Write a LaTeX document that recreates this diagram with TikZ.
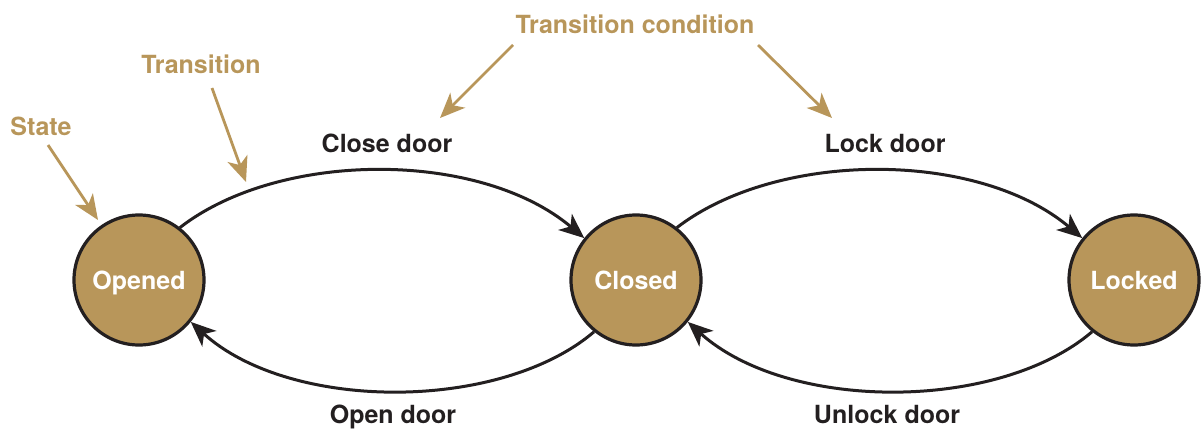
\documentclass[tikz,border=0pt]{standalone}
\usepackage{fontspec}
\setmainfont{TeX Gyre Heros}
\usetikzlibrary{arrows.meta}
\definecolor{gold}{HTML}{B8965A}
\definecolor{ink}{HTML}{231F20}
\tikzset{
  statenode/.style={circle, draw=ink, line width=3.2pt, fill=gold, minimum size=130pt, inner sep=0pt,
    text=white, text height=18pt, text depth=0pt, font=\fontsize{25}{30}\selectfont\bfseries},
  trans/.style={draw=ink, line width=3pt, -{Stealth[length=25pt,width=21pt,inset=7pt]}},
  translabel/.style={text=ink, font=\fontsize{25}{30}\selectfont\bfseries, inner sep=0pt, anchor=base},
  annlabel/.style={text=gold, font=\fontsize{25}{30}\selectfont\bfseries, inner sep=0pt, anchor=base},
  annarrow/.style={draw=gold, line width=2.8pt, -{Stealth[length=25pt,width=21pt,inset=7pt]}}
}
\begin{document}
\begin{tikzpicture}[x=1pt,y=-1pt]
\useasboundingbox (0,0) rectangle (1201,429);
\node[statenode] (opened) at (139,280) {Opened};
\node[statenode] (closed) at (636,280) {Closed};
\node[statenode] (locked) at (1134,280) {Locked};

\draw[trans] (opened.52) .. controls (280,150) and (480,150) .. (closed.141);
\draw[trans] (closed.231) .. controls (500,412) and (290,412) .. (opened.321);
\draw[trans] (closed.52) .. controls (778,150) and (978,150) .. (locked.141);
\draw[trans] (locked.231) .. controls (998,412) and (788,412) .. (closed.321);

\node[translabel] (lclose) at (387,152) {Close door};
\node[translabel] (lopen) at (393,423) {Open door};
\node[translabel] (llock) at (885,152) {Lock door};
\node[translabel] (lunlock) at (887,423) {Unlock door};

\node[annlabel] (astate) at (41,135) {State};
\node[annlabel] (atrans) at (201,73) {Transition};
\node[annlabel] (acond) at (635,33) {Transition condition};

\coordinate (s1) at (48,145);  \coordinate (t1) at (98,220);
\coordinate (s2) at (212,88);  \coordinate (t2) at (246,182);
\coordinate (s3) at (513,45);  \coordinate (t3) at (440,118);
\coordinate (s4) at (758,45);  \coordinate (t4) at (832,118);
\draw[annarrow] (s1) -- (t1);
\draw[annarrow] (s2) -- (t2);
\draw[annarrow] (s3) -- (t3);
\draw[annarrow] (s4) -- (t4);
\end{tikzpicture}
\end{document}
